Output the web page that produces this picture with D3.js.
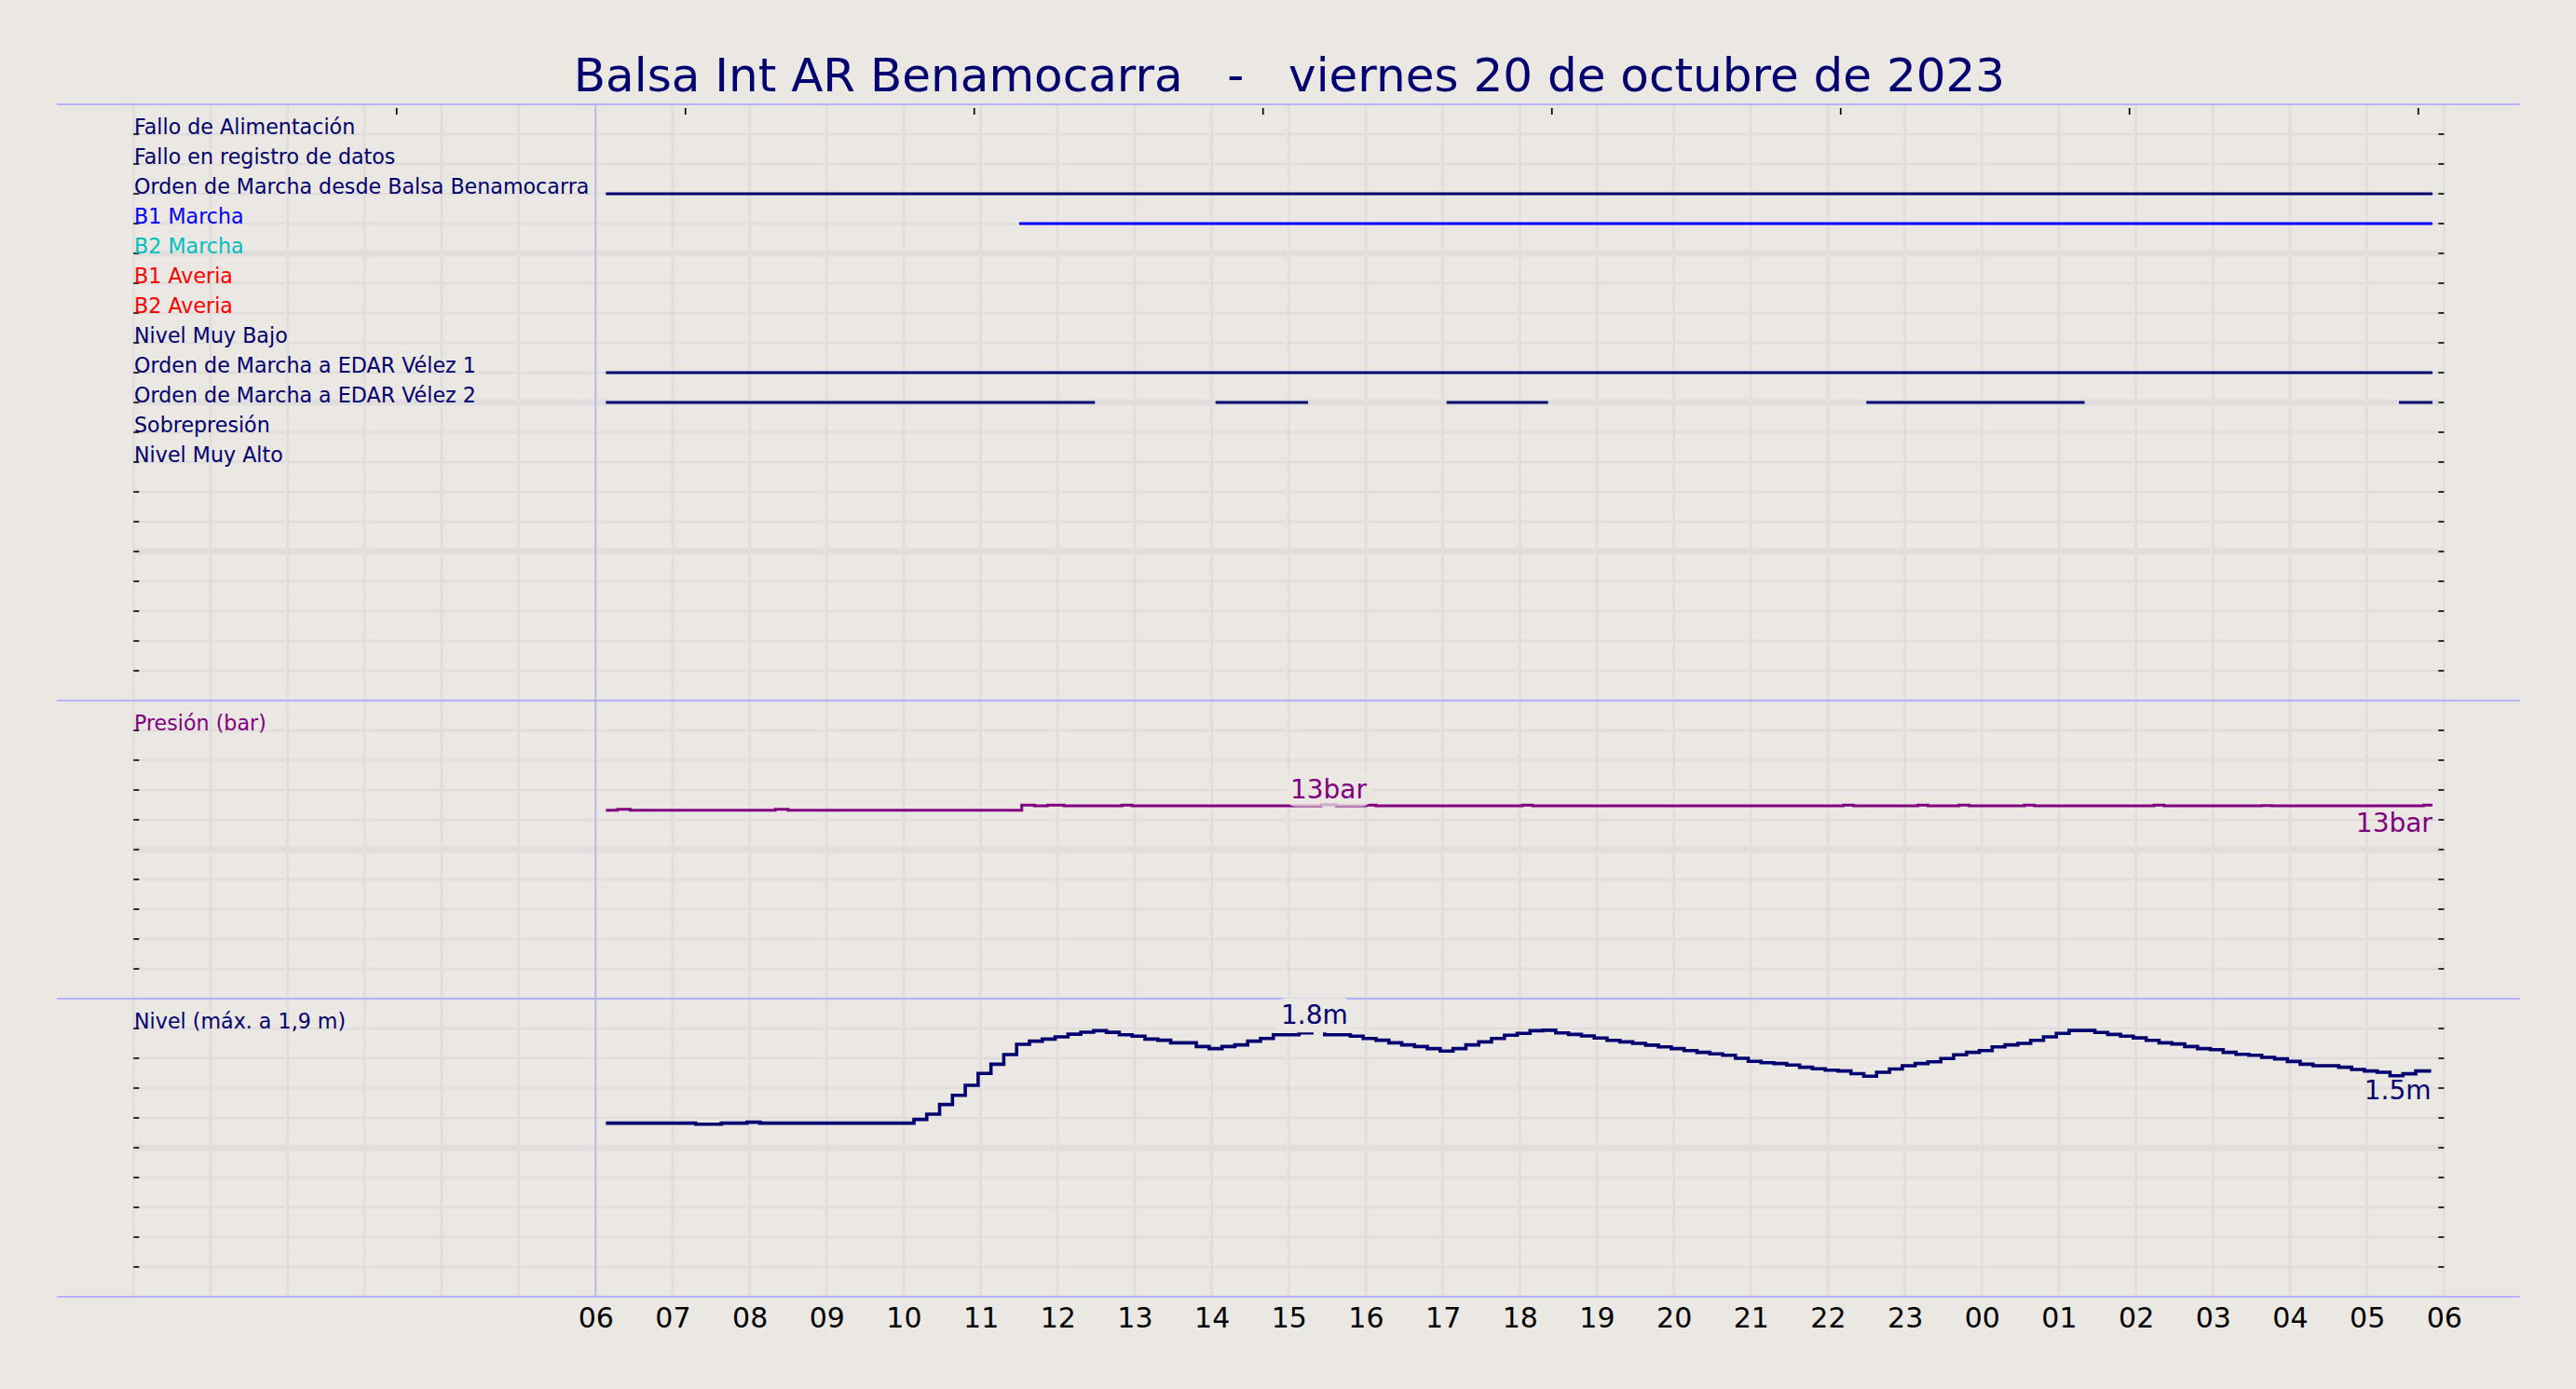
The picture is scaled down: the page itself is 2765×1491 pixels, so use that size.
<!DOCTYPE html>
<html>
<head>
<meta charset="utf-8">
<script src="https://d3js.org/d3.v7.min.js"></script>
<style>
 body { margin:0; background:#ebe7e2; }
 text { font-family: "DejaVu Sans", sans-serif; }
</style>
</head>
<body>
<script>

var titulo = 'Balsa Int AR Benamocarra   -   viernes 20 de octubre de 2023'

// señales digitales (una fila cada una)
var senales = ['Fallo de Alimentación', 'Fallo en registro de datos', 'Orden de Marcha desde Balsa Benamocarra',
  'B1 Marcha', 'B2 Marcha', 'B1 Averia', 'B2 Averia', 'Nivel Muy Bajo',
  'Orden de Marcha a EDAR Vélez 1', 'Orden de Marcha a EDAR Vélez 2', 'Sobrepresión', 'Nivel Muy Alto']

var coloresSenal = ['#000070', '#000070', '#000070', '#0000ff', '#00bfbf', '#ff0000', '#ff0000', '#000070',
  '#000070', '#000070', '#000070', '#000070']

// tramos activos [inicio, fin] de cada señal
var tramos = [
  [], [],
  [['06:08', '05:51']],
  [['11:30', '05:51']],
  [], [], [], [],
  [['06:08', '05:51']],
  [['06:08', '12:29'], ['14:03', '15:15'], ['17:03', '18:22'], ['22:30', '01:20'], ['05:25', '05:51']],
  [], []
]

// nivel (m), una lectura cada 10 min desde 06:08
var nivelInicio = '06:08', nivelPasoMin = 10, nivelFin = '05:50'
var nivel = [1.165, 1.165, 1.165, 1.165, 1.165, 1.165, 1.165, 1.158, 1.158, 1.165,
  1.165, 1.171, 1.165, 1.165, 1.165, 1.165, 1.165, 1.165, 1.165, 1.165,
  1.165, 1.165, 1.165, 1.165, 1.19, 1.225, 1.29, 1.352, 1.419, 1.498,
  1.56, 1.625, 1.694, 1.715, 1.729, 1.744, 1.762, 1.775, 1.785, 1.774,
  1.758, 1.748, 1.729, 1.721, 1.704, 1.704, 1.679, 1.665, 1.679, 1.69,
  1.715, 1.733, 1.758, 1.758, 1.77, 1.792, 1.758, 1.758, 1.748, 1.733,
  1.721, 1.704, 1.69, 1.679, 1.665, 1.648, 1.665, 1.69, 1.71, 1.733,
  1.755, 1.767, 1.785, 1.788, 1.77, 1.76, 1.75, 1.736, 1.72, 1.71,
  1.70, 1.688, 1.677, 1.665, 1.652, 1.64, 1.63, 1.62, 1.60, 1.58,
  1.57, 1.565, 1.555, 1.54, 1.53, 1.52, 1.515, 1.497, 1.48, 1.506,
  1.528, 1.55, 1.565, 1.577, 1.598, 1.623, 1.64, 1.652, 1.677, 1.69,
  1.70, 1.72, 1.744, 1.767, 1.787, 1.787, 1.773, 1.76, 1.748, 1.737,
  1.72, 1.704, 1.696, 1.679, 1.665, 1.658, 1.64, 1.627, 1.62, 1.606,
  1.596, 1.579, 1.56, 1.55, 1.55, 1.54, 1.525, 1.515, 1.506, 1.483,
  1.496, 1.515]

// presión (bar), solo los cambios
var presionHoras = ['06:08', '06:17', '06:27', '08:20', '08:30', '11:32', '11:42', '11:52', '12:05', '12:50',
  '12:58', '15:25', '15:37', '16:00', '16:08', '18:02', '18:10', '22:12', '22:20', '23:10',
  '23:18', '23:42', '23:50', '00:33', '00:41', '02:14', '02:22', '03:38', '03:46', '05:44']
var presionValores = [12.64, 12.70, 12.64, 12.70, 12.64, 12.99, 12.93, 12.99, 12.93, 12.99,
  12.93, 13.02, 12.93, 12.99, 12.93, 12.99, 12.93, 12.99, 12.93, 12.99,
  12.93, 12.99, 12.93, 12.99, 12.93, 12.99, 12.93, 12.96, 12.93, 12.99]
var presionFin = '05:51'

// ticks del eje superior (horas desde las 00)
var ticksSup = [3.43, 7.18, 10.93, 14.68, 18.43, 22.18, 25.93, 29.68]

var filasTicks = d3.range(1, 20)
var presionTicks = d3.range(2, 19, 2)
var nivelTicks = [0.2, 0.4, 0.6, 0.8, 1.0, 1.2, 1.4, 1.6, 1.8]


// hora 'HH:MM' -> fecha (antes de las 06 es el dia siguiente)
function hora(s) {
  var p = s.split(':').map(Number)
  return new Date(2023, 9, p[0] < 6 ? 21 : 20, p[0], p[1])
}

var W = 2765, H = 1491
var fondo = '#ebe7e2', rejilla = '#e2dddd', azul = '#b0b4ff', navy = '#000070', morado = '#800080'

var svg = d3.select('body').append('svg').attr('width', W).attr('height', H)
svg.append('rect').attr('width', W).attr('height', H).attr('fill', fondo)

var x = d3.scaleTime().domain([new Date(2023, 9, 20, 0), new Date(2023, 9, 21, 6)]).range([143.3, 2623.3])

var y1 = d3.scaleLinear().domain([0, 20]).range([112, 752])
var y2 = d3.scaleLinear().domain([0, 20]).range([1072, 752])
var y3 = d3.scaleLinear().domain([0, 2]).range([1392, 1072])

var paneles = [
  { y: y1, ticks: filasTicks, mayor: function(d) { return d % 5 == 0 } },
  { y: y2, ticks: presionTicks, mayor: function(d) { return d == 10 } },
  { y: y3, ticks: nivelTicks, mayor: function(d) { return Math.abs(d - 1) < 1e-6 } }
]

var x0 = x.range()[0], x1 = x.range()[1]
var horas = d3.timeHour.range(x.domain()[0], d3.timeHour.offset(x.domain()[1], 1))

//rejilla de cada panel
paneles.forEach(function(p) {
  var g = svg.append('g')
  var r = p.y.range()
  var top = Math.min(r[0], r[1]), bot = Math.max(r[0], r[1])

  g.selectAll('.h').data(p.y.domain().concat(p.ticks)).enter().append('line')
   .attr('x1', x0).attr('x2', x1)
   .attr('y1', function(d) { return p.y(d) }).attr('y2', function(d) { return p.y(d) })
   .attr('stroke', rejilla)
   .attr('stroke-width', function(d) { return p.mayor(d) && p.ticks.indexOf(d) >= 0 ? 7 : 2.5 })

  g.selectAll('.v').data(horas).enter().append('line')
   .attr('x1', function(d) { return x(d) }).attr('x2', function(d) { return x(d) })
   .attr('y1', top).attr('y2', bot)
   .attr('stroke', rejilla).attr('stroke-width', 2.7)

  // ticks hacia dentro a ambos lados
  g.selectAll('.tl').data(p.ticks).enter().append('line')
   .attr('x1', x0).attr('x2', x0 + 6)
   .attr('y1', function(d) { return p.y(d) }).attr('y2', function(d) { return p.y(d) })
   .attr('stroke', '#000').attr('stroke-width', 1.6)
  g.selectAll('.tr').data(p.ticks).enter().append('line')
   .attr('x1', x1 - 6).attr('x2', x1)
   .attr('y1', function(d) { return p.y(d) }).attr('y2', function(d) { return p.y(d) })
   .attr('stroke', '#000').attr('stroke-width', 1.6)
})

// ticks superiores
svg.append('g').selectAll('line').data(ticksSup).enter().append('line')
 .attr('x1', function(d) { return x(d3.timeMinute.offset(x.domain()[0], d * 60)) })
 .attr('x2', function(d) { return x(d3.timeMinute.offset(x.domain()[0], d * 60)) })
 .attr('y1', 116).attr('y2', 123)
 .attr('stroke', '#000').attr('stroke-width', 1.7)

// lineas azules de separacion
svg.append('g').selectAll('line').data([112, 752, 1072, 1392]).enter().append('line')
 .attr('x1', 61).attr('x2', 2705)
 .attr('y1', function(d) { return d }).attr('y2', function(d) { return d })
 .attr('stroke', azul).attr('stroke-width', 2)

svg.append('line')
 .attr('x1', x(hora('06:00'))).attr('x2', x(hora('06:00')))
 .attr('y1', 112).attr('y2', 1392)
 .attr('stroke', azul).attr('stroke-width', 1.6)

// eje x
var ejeX = svg.append('g').attr('transform', 'translate(0,1392)')
 .call(d3.axisBottom(x).tickValues(d3.timeHour.range(hora('06:00'), d3.timeHour.offset(hora('05:00'), 2)))
   .tickFormat(d3.timeFormat('%H')).tickSize(0))
ejeX.select('.domain').remove()
ejeX.selectAll('text').attr('y', 33).attr('dy', 0)
 .style('font-size', '30px').style('font-family', '"DejaVu Sans"').attr('fill', '#000')

// titulo
svg.append('text').attr('x', 1384).attr('y', 98).attr('text-anchor', 'middle')
 .style('font-size', '50px').style('white-space', 'pre').attr('fill', navy).text(titulo)

// etiquetas de las señales y sus tramos
senales.forEach(function(s, i) {
  svg.append('text').attr('x', 144).attr('y', y1(i + 1))
   .style('font-size', '22.2px').attr('fill', coloresSenal[i]).text(s)

  svg.append('g').selectAll('line').data(tramos[i]).enter().append('line')
   .attr('x1', function(d) { return x(hora(d[0])) }).attr('x2', function(d) { return x(hora(d[1])) })
   .attr('y1', y1(i + 1)).attr('y2', y1(i + 1))
   .attr('stroke', coloresSenal[i]).attr('stroke-width', 3)
})

svg.append('text').attr('x', 144).attr('y', y2(18)).style('font-size', '22.2px').attr('fill', morado).text('Presión (bar)')
svg.append('text').attr('x', 144).attr('y', y3(1.8)).style('font-size', '22.2px').attr('fill', navy).text('Nivel (máx. a 1,9 m)')

// series
var t0 = hora(nivelInicio)
var nivelPts = nivel.map(function(v, k) { return { t: d3.timeMinute.offset(t0, k * nivelPasoMin), v: v } })
nivelPts.push({ t: hora(nivelFin), v: nivel[nivel.length - 1] })

var presionPts = presionHoras.map(function(h, k) { return { t: hora(h), v: presionValores[k] } })
presionPts.push({ t: hora(presionFin), v: presionValores[presionValores.length - 1] })

function serie(pts, y, color, ancho) {
  var line = d3.line().curve(d3.curveStepAfter)
   .x(function(d) { return x(d.t) }).y(function(d) { return y(d.v) })
  svg.append('path').attr('d', line(pts)).attr('fill', 'none')
   .attr('stroke', color).attr('stroke-width', ancho)
}

serie(presionPts, y2, morado, 3)
serie(nivelPts, y3, navy, 3.6)

// etiqueta con caja de fondo
function etiqueta(txt, px, py, color, anchor, opac) {
  var g = svg.append('g')
  var t = g.append('text').attr('x', px).attr('y', py).attr('text-anchor', anchor)
   .style('font-size', '28px').attr('fill', color).text(txt)
  if (opac) {
    var b = t.node().getBBox()
    g.insert('rect', 'text').attr('x', b.x - 4).attr('y', b.y - 2)
     .attr('width', b.width + 8).attr('height', b.height + 4).attr('rx', 9)
     .attr('fill', fondo).attr('opacity', opac)
  }
}

// maximos y ultimos valores
var iMaxN = d3.maxIndex(nivel)
var tMaxN = d3.timeMinute.offset(t0, iMaxN * nivelPasoMin + 2)
etiqueta(nivel[iMaxN].toFixed(1) + 'm', x(tMaxN), y3(nivel[iMaxN]) - 6, navy, 'middle', 1)
etiqueta(nivel[nivel.length - 1].toFixed(1) + 'm', x(hora(nivelFin)), y3(nivel[nivel.length - 1]) + 30, navy, 'end')

var iMaxP = d3.maxIndex(presionValores)
var tMaxP = new Date((hora(presionHoras[iMaxP]).getTime() + hora(presionHoras[iMaxP + 1]).getTime()) / 2)
etiqueta(Math.round(presionValores[iMaxP]) + 'bar', x(tMaxP), y2(presionValores[iMaxP]) - 7, morado, 'middle', 0.75)
etiqueta(Math.round(presionValores[presionValores.length - 1]) + 'bar', x(hora(presionFin)), y2(presionValores[presionValores.length - 1]) + 29, morado, 'end')

</script>
</body>
</html>
